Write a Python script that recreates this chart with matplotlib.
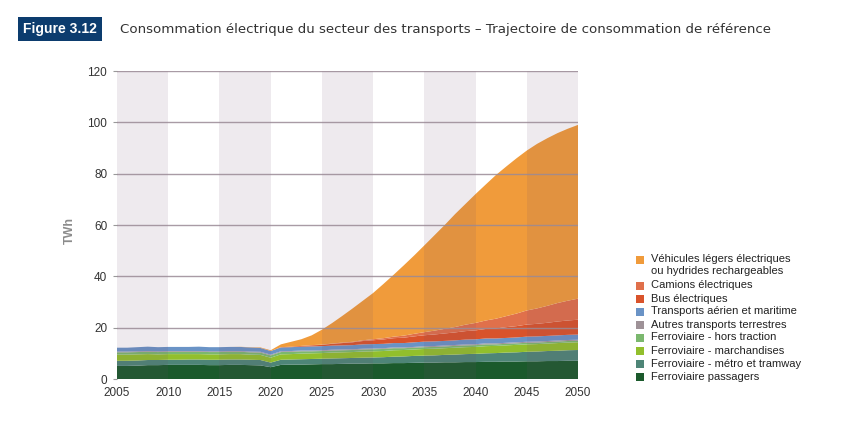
import matplotlib
matplotlib.use("Agg")
import matplotlib.pyplot as plt
from matplotlib.patches import Rectangle
import numpy as np

years = list(range(2005, 2051))

passagers = [5.1, 5.1, 5.2, 5.4, 5.4, 5.5, 5.5, 5.5, 5.5, 5.4, 5.4, 5.5, 5.5, 5.4, 5.3,
             4.6,
             5.5, 5.6, 5.6, 5.7, 5.8, 5.8, 5.9, 6.0, 6.0, 6.1,
             6.1, 6.2, 6.2, 6.3, 6.4, 6.4, 6.5, 6.5, 6.6, 6.6,
             6.7, 6.7, 6.8, 6.8, 6.9, 6.9, 7.0, 7.0, 7.1, 7.1]
metro = [2.0, 2.0, 2.0, 2.0, 2.0, 2.0, 2.0, 2.1, 2.1, 2.1, 2.1, 2.1, 2.1, 2.1, 2.1,
         1.8,
         2.0, 2.0, 2.1, 2.1, 2.1, 2.2, 2.2, 2.2, 2.3, 2.3,
         2.4, 2.5, 2.6, 2.7, 2.7, 2.8, 2.9, 3.0, 3.1, 3.2,
         3.3, 3.4, 3.5, 3.6, 3.7, 3.8, 3.9, 4.0, 4.1, 4.2]
marchandises = [2.4, 2.4, 2.4, 2.3, 2.2, 2.2, 2.2, 2.1, 2.1, 2.1, 2.1, 2.1, 2.1, 2.0, 2.0,
                1.9,
                2.1, 2.1, 2.2, 2.2, 2.2, 2.3, 2.3, 2.3, 2.4, 2.4,
                2.4, 2.5, 2.5, 2.5, 2.6, 2.6, 2.6, 2.7, 2.7, 2.7,
                2.8, 2.8, 2.8, 2.9, 2.9, 2.9, 2.9, 3.0, 3.0, 3.0]
hors_traction = [0.9, 0.9, 0.9, 0.9, 0.9, 0.9, 0.9, 0.9, 0.9, 0.9, 0.9, 0.9, 0.9, 0.9, 0.9,
                 0.9,
                 0.9, 0.9, 0.9, 0.8, 0.8, 0.8, 0.8, 0.8, 0.8, 0.8,
                 0.8, 0.8, 0.7, 0.7, 0.7, 0.7, 0.7, 0.7, 0.7, 0.7,
                 0.7, 0.6, 0.6, 0.6, 0.6, 0.6, 0.6, 0.6, 0.6, 0.6]
autres = [0.3, 0.3, 0.3, 0.3, 0.3, 0.3, 0.3, 0.3, 0.3, 0.3, 0.3, 0.3, 0.3, 0.3, 0.3,
          0.3,
          0.3, 0.3, 0.3, 0.3, 0.3, 0.3, 0.3, 0.3, 0.3, 0.3,
          0.3, 0.3, 0.3, 0.3, 0.35, 0.35, 0.35, 0.35, 0.35, 0.35,
          0.4, 0.4, 0.4, 0.4, 0.4, 0.4, 0.4, 0.4, 0.4, 0.4]
aerien = [1.5, 1.5, 1.6, 1.7, 1.6, 1.6, 1.6, 1.6, 1.7, 1.6, 1.6, 1.6, 1.6, 1.6, 1.5,
          1.4,
          1.5, 1.5, 1.5, 1.6, 1.6, 1.6, 1.6, 1.6, 1.7, 1.7,
          1.7, 1.7, 1.7, 1.8, 1.8, 1.8, 1.8, 1.8, 1.9, 1.9,
          1.9, 1.9, 1.9, 1.9, 2.0, 2.0, 2.0, 2.0, 2.0, 2.0]
bus = [0, 0, 0, 0, 0, 0, 0, 0, 0, 0, 0, 0, 0, 0, 0,
       0,
       0.1, 0.2, 0.3, 0.4, 0.5, 0.7, 0.9, 1.1, 1.3, 1.5,
       1.7, 1.9, 2.1, 2.3, 2.5, 2.7, 2.9, 3.1, 3.3, 3.5,
       3.7, 3.9, 4.2, 4.4, 4.7, 4.9, 5.1, 5.4, 5.6, 5.8]
camions = [0, 0, 0, 0, 0, 0, 0, 0, 0, 0, 0, 0, 0, 0, 0,
           0,
           0.0, 0.0, 0.0, 0.1, 0.1, 0.1, 0.2, 0.2, 0.3, 0.4,
           0.5, 0.6, 0.8, 1.0, 1.2, 1.5, 1.8, 2.1, 2.5, 2.9,
           3.3, 3.8, 4.3, 4.9, 5.5, 6.0, 6.6, 7.2, 7.7, 8.2]
vehicules = [0, 0, 0, 0, 0, 0, 0, 0, 0, 0, 0, 0, 0.05, 0.1, 0.2,
             0.3,
             1.1, 1.9, 2.6, 3.8, 5.8, 8.0, 10.4, 13.0, 15.4, 18.0,
             21.1, 24.1, 27.4, 30.5, 33.8, 37.2, 40.5, 44.0, 47.0, 50.2,
             53.0, 56.0, 58.3, 60.5, 62.3, 64.1, 65.3, 66.2, 67.0, 67.7]

series = [passagers, metro, marchandises, hors_traction, autres, aerien, bus, camions, vehicules]
labels = ["Ferroviaire passagers", "Ferroviaire - métro et tramway", "Ferroviaire - marchandises",
          "Ferroviaire - hors traction", "Autres transports terrestres", "Transports aérien et maritime",
          "Bus électriques", "Camions électriques",
          "Véhicules légers électriques\nou hydrides rechargeables"]
colors = ["#1B5A2C", "#4E8577", "#92BF2C", "#7BB86E", "#9E9297", "#6A93C6",
          "#D9532B", "#E0704B", "#F09B3B"]

yticks = [0, 20, 40, 60, 80, 100, 120]
xticks = list(range(2005, 2051, 5))

W, H = 848, 424
fig = plt.figure(figsize=(W / 100, H / 100), dpi=100)
ax = fig.add_axes([117 / W, 1 - 379 / H, (578 - 117) / W, (379 - 71) / H])

ax.stackplot(years, *series, colors=colors, linewidth=0, zorder=2)

# shaded bands
for x0 in range(2005, 2050, 10):
    ax.axvspan(x0, x0 + 5, color="#6e4c6e", alpha=0.115, lw=0, zorder=3)

for y in yticks[1:]:
    ax.axhline(y, color="#9a8a95", lw=1.0, alpha=0.85, zorder=4)

ax.set_xlim(2005, 2050)
ax.set_ylim(0, 120)
ax.set_xticks(xticks)
ax.set_yticks(yticks)
tickfont = dict(family="Liberation Sans", size=8.5)
ax.set_xticklabels([str(v) for v in xticks], color="#333333", **tickfont)
ax.set_yticklabels([str(v) for v in yticks], color="#333333", **tickfont)
ax.tick_params(axis="x", length=0, pad=6)
ax.tick_params(axis="y", length=3, color="#999999", pad=4)
for s in ax.spines.values():
    s.set_visible(False)

fig.text(70 / W, 1 - 230 / H, "TWh", rotation=90, ha="center", va="center",
         color="#8c8c8c", fontweight="bold", fontsize=9, family="Liberation Sans")

# Title
fig.text(23 / W, 1 - 29 / H, "Figure 3.12", ha="left", va="center", color="white",
         fontweight="bold", fontsize=10, family="Liberation Sans",
         bbox=dict(boxstyle="square,pad=0.35", facecolor="#0C3C6E", edgecolor="none"))
fig.text(120 / W, 1 - 29 / H,
         "Consommation électrique du secteur des transports – Trajectoire de consommation de référence",
         ha="left", va="center", color="#333333", fontsize=9.6, family="DejaVu Sans")

# Legend (manual)
leg_order = [8, 7, 6, 5, 4, 3, 2, 1, 0]
ypos = [260, 285.5, 298.5, 311.5, 324.5, 337.5, 350.5, 364, 377]
for idx, yp in zip(leg_order, ypos):
    fig.patches.append(Rectangle((636 / W, 1 - (yp + 4) / H), 8 / W, 8 / H,
                                 transform=fig.transFigure, facecolor=colors[idx],
                                 edgecolor="none"))
    if "\n" in labels[idx]:
        fig.text(651 / W, 1 - (yp - 6) / H, labels[idx], ha="left", va="top", fontsize=8,
                 family="Liberation Sans", color="#222222", linespacing=1.2)
    else:
        fig.text(651 / W, 1 - yp / H, labels[idx], ha="left", va="center", fontsize=8,
                 family="Liberation Sans", color="#222222")

fig.savefig("out.png", dpi=100)
